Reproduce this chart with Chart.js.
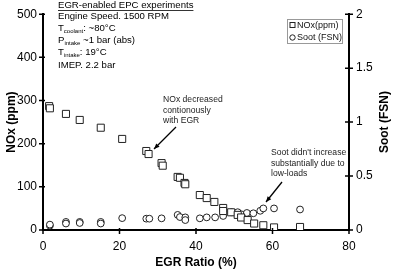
<!DOCTYPE html>
<html><head><meta charset="utf-8">
<script src="https://cdn.jsdelivr.net/npm/chart.js@4/dist/chart.umd.min.js"></script>
<style>html,body{margin:0;padding:0;background:#fff}#wrap{width:396px;height:270px;position:relative}</style>
</head><body><div id="wrap"><canvas id="c" width="396" height="270"></canvas></div>
<script>
// ---- data ----
const egrNOx = [1.6, 1.8, 6.0, 9.6, 15.1, 20.7, 27.0, 27.6, 31.0, 31.3, 35.2, 35.8, 37.0, 37.2, 41.0, 42.8, 44.8, 47.1, 47.1, 49.2, 50.9, 51.8, 53.5, 55.2, 57.6, 60.4, 67.2];
const noxPpm = [287, 282, 269, 255, 237, 211, 183, 176, 155, 149, 123, 121, 109, 106, 81, 74, 65, 51, 44, 41, 35, 29, 23, 15, 11, 6, 7];
const egrSoot = [1.8, 1.8, 6.0, 6.0, 9.6, 9.6, 15.1, 15.1, 20.7, 27.0, 27.8, 31.0, 35.2, 35.8, 37.2, 37.2, 41.0, 42.8, 45.0, 47.1, 49.3, 50.9, 51.9, 53.3, 55.0, 56.8, 57.6, 60.4, 67.2];
const sootFsn = [0.04, 0.05, 0.075, 0.06, 0.075, 0.065, 0.075, 0.06, 0.11, 0.105, 0.105, 0.108, 0.14, 0.12, 0.117, 0.092, 0.108, 0.117, 0.117, 0.13, 0.165, 0.165, 0.145, 0.158, 0.155, 0.178, 0.2, 0.2, 0.19];
const xTicks = [0, 20, 40, 60, 80];
const noxTicks = [0, 100, 200, 300, 400, 500];
const sootTicks = [0, 0.5, 1, 1.5, 2];
const seriesNames = ['NOx(ppm)', 'Soot (FSN)'];
const axisTitles = ['EGR Ratio (%)', 'NOx (ppm)', 'Soot (FSN)'];

const FONT = '"Liberation Sans", Arial, sans-serif';
const toPts = (xs, ys) => xs.map((x, i) => ({x: x, y: ys[i]}));

const tickMarks = {
  id: 'tickMarks',
  afterDraw(chart) {
    const ctx = chart.ctx, a = chart.chartArea;
    ctx.save();
    ctx.strokeStyle = '#000'; ctx.lineWidth = 1.5;
    const sx = chart.scales.x, sy = chart.scales.y, sy2 = chart.scales.y2;
    ctx.beginPath();
    sx.ticks.forEach(t => { const p = sx.getPixelForValue(t.value); ctx.moveTo(p, a.bottom - 2); ctx.lineTo(p, a.bottom + 4); });
    sy.ticks.forEach(t => { const p = sy.getPixelForValue(t.value); ctx.moveTo(a.left - 4, p); ctx.lineTo(a.left + 2, p); });
    sy2.ticks.forEach(t => { const p = sy2.getPixelForValue(t.value); ctx.moveTo(a.right - 4, p); ctx.lineTo(a.right + 4, p); });
    ctx.stroke();

    // right axis title (reads bottom to top)
    ctx.fillStyle = '#000';
    ctx.font = 'bold 12px ' + FONT;
    ctx.textAlign = 'center'; ctx.textBaseline = 'middle';
    ctx.save(); ctx.translate(385, (a.top + a.bottom) / 2); ctx.rotate(-Math.PI / 2);
    ctx.fillText(axisTitles[2], 0, 0); ctx.restore();

    // experiment conditions block
    ctx.textAlign = 'left'; ctx.textBaseline = 'middle';
    const x0 = 58, fs = 9.6;
    ctx.font = fs + 'px ' + FONT;
    ctx.fillText('EGR-enabled EPC experiments', x0, 5);
    const w = ctx.measureText('EGR-enabled EPC experiments').width;
    ctx.beginPath(); ctx.lineWidth = 0.8; ctx.moveTo(x0, 10.5); ctx.lineTo(x0 + w, 10.5); ctx.stroke();
    ctx.fillText('Engine Speed. 1500 RPM', x0, 16.5);
    const sub = (main, s, rest, y) => {
      ctx.font = fs + 'px ' + FONT; ctx.fillText(main, x0, y);
      let xx = x0 + ctx.measureText(main).width;
      ctx.font = '6px ' + FONT; ctx.fillText(s, xx, y + 3);
      xx += ctx.measureText(s).width;
      ctx.font = fs + 'px ' + FONT; ctx.fillText(rest, xx, y);
    };
    sub('T', 'coolant', ': ~80°C', 28);
    sub('P', 'intake', ' ~1 bar (abs)', 40.5);
    sub('T', 'intake', ': 19°C', 52.5);
    ctx.font = fs + 'px ' + FONT;
    ctx.fillText('IMEP. 2.2 bar', x0, 65);

    // legend
    ctx.strokeStyle = '#999'; ctx.lineWidth = 1;
    ctx.strokeRect(287.5, 19.5, 55, 24);
    ctx.strokeStyle = '#222';
    ctx.strokeRect(290, 22.5, 5, 5);
    ctx.beginPath(); ctx.arc(292.5, 37.5, 2.7, 0, Math.PI * 2); ctx.stroke();
    ctx.font = '9px ' + FONT; ctx.fillStyle = '#111';
    ctx.fillText(seriesNames[0], 297, 25.5);
    ctx.fillText(seriesNames[1], 297, 37.5);

    // annotations
    ctx.font = '8.6px ' + FONT; ctx.fillStyle = '#222';
    ctx.fillText('NOx decreased', 163, 100);
    ctx.fillText('contionously', 163, 110.5);
    ctx.fillText('with EGR', 163, 121);
    ctx.fillText("Soot didn't increase", 271, 153);
    ctx.fillText('substantially due to', 271, 163.5);
    ctx.fillText('low-loads', 271, 174);
    const arrow = (x1, y1, x2, y2) => {
      ctx.strokeStyle = '#000'; ctx.fillStyle = '#000'; ctx.lineWidth = 1.3;
      ctx.beginPath(); ctx.moveTo(x1, y1); ctx.lineTo(x2, y2); ctx.stroke();
      const ang = Math.atan2(y2 - y1, x2 - x1), L = 6;
      ctx.beginPath(); ctx.moveTo(x2, y2);
      ctx.lineTo(x2 - L * Math.cos(ang - 0.4), y2 - L * Math.sin(ang - 0.4));
      ctx.lineTo(x2 - L * Math.cos(ang + 0.4), y2 - L * Math.sin(ang + 0.4));
      ctx.closePath(); ctx.fill();
    };
    arrow(176, 127, 154, 149);
    arrow(282, 182, 266, 202);
    ctx.restore();
  }
};

new Chart(document.getElementById('c'), {
  type: 'scatter',
  data: {
    datasets: [
      { label: seriesNames[0], data: toPts(egrNOx, noxPpm), yAxisID: 'y', pointStyle: 'rect', pointRadius: 5, pointHoverRadius: 5,
        borderColor: '#222', backgroundColor: '#fff', borderWidth: 1 },
      { label: seriesNames[1], data: toPts(egrSoot, sootFsn), yAxisID: 'y2', pointStyle: 'circle', pointRadius: 3.4, pointHoverRadius: 3.4,
        borderColor: '#222', backgroundColor: '#fff', borderWidth: 1 }
    ]
  },
  options: {
    responsive: false, animation: false, devicePixelRatio: 1,
    layout: { padding: 0 },
    plugins: { legend: { display: false }, tooltip: { enabled: false } },
    scales: {
      x: {
        type: 'linear', min: 0, max: 80,
        afterBuildTicks: s => { s.ticks = xTicks.map(v => ({value: v})); },
        afterFit: s => { s.height = 40; },
        grid: { display: false, drawTicks: false },
        border: { display: true, color: '#000', width: 2 },
        ticks: { padding: 9, color: '#000', font: { family: FONT, size: 12 }, maxRotation: 0 },
        title: { display: true, text: axisTitles[0], color: '#000', font: { family: FONT, size: 12, weight: 'bold' }, padding: { top: 0, bottom: 0 } }
      },
      y: {
        type: 'linear', position: 'left', min: 0, max: 500,
        afterBuildTicks: s => { s.ticks = noxTicks.map(v => ({value: v})); },
        afterFit: s => { s.width = 43; },
        grid: { display: false, drawTicks: false },
        border: { display: true, color: '#000', width: 2 },
        ticks: { padding: 6, color: '#000', font: { family: FONT, size: 12 } },
        title: { display: true, text: axisTitles[1], color: '#000', font: { family: FONT, size: 12, weight: 'bold' }, padding: { top: 4, bottom: 0 } }
      },
      y2: {
        type: 'linear', position: 'right', min: 0, max: 2,
        afterBuildTicks: s => { s.ticks = sootTicks.map(v => ({value: v})); },
        afterFit: s => { s.width = 47; },
        grid: { display: false, drawTicks: false },
        border: { display: true, color: '#000', width: 2 },
        ticks: { padding: 7, color: '#000', font: { family: FONT, size: 12 }, callback: v => String(v) },
        title: { display: false }
      }
    }
  },
  plugins: [tickMarks]
});
</script>
</body></html>
